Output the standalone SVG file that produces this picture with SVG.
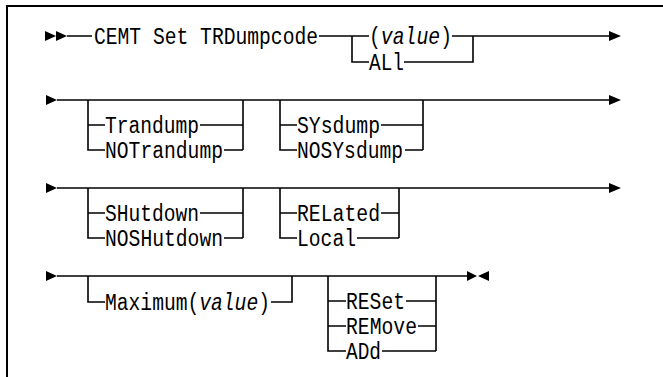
<svg xmlns="http://www.w3.org/2000/svg" width="663" height="377" viewBox="0 0 663 377">
<style>
.t{font-family:"Liberation Mono","DejaVu Sans Mono",monospace;font-size:23px;fill:#000}
.i{font-style:italic}
.ln{stroke:#000;stroke-width:1.6;fill:none}
.ar{fill:#000;stroke:none}
.bd{stroke:#000;stroke-width:2;fill:none}
</style>
<rect width="663" height="377" fill="#fff"/>
<path class="bd" d="M7,377 V6 H663"/>
<g id="connectors">
  <!-- row 1 -->
  <path class="ar" d="M45,31 L56,36 L45,41 Z M56,31 L67,36 L56,41 Z"/>
  <path class="ln" d="M67,36 H92 M319,36 H369 M452,36 H610"/>
  <path class="ar" d="M609,31 L621,36 L609,41 Z"/>
  <path class="ln" d="M352,36 V62 H369 M404,62 H473 V36"/>
  <!-- row 2 -->
  <path class="ar" d="M46,95 L57,100 L46,105 Z"/>
  <path class="ln" d="M57,100 H610"/>
  <path class="ar" d="M609,95 L621,100 L609,105 Z"/>
  <path class="ln" d="M88,100 V150 H105 M88,125 H105 M200,125 H243 M224,150 H243 M243,100 V150"/>
  <path class="ln" d="M280,100 V150 H297 M280,125 H297 M381,125 H423 M405,150 H423 M423,100 V150"/>
  <!-- row 3 -->
  <path class="ar" d="M46,183 L57,188 L46,193 Z"/>
  <path class="ln" d="M57,188 H610"/>
  <path class="ar" d="M609,183 L621,188 L609,193 Z"/>
  <path class="ln" d="M88,188 V238 H105 M88,213 H105 M200,213 H243 M224,238 H243 M243,188 V238"/>
  <path class="ln" d="M280,188 V238 H297 M280,213 H297 M381,213 H399 M357,238 H399 M399,188 V238"/>
  <!-- row 4 -->
  <path class="ar" d="M46,271 L57,276 L46,281 Z"/>
  <path class="ln" d="M57,276 H468"/>
  <path class="ar" d="M467,271 L477,276 L467,281 Z M489,271 L478,276 L489,281 Z"/>
  <path class="ln" d="M88,276 V302 H105 M271,302 H292 V276"/>
  <path class="ln" d="M328,276 V351 H346 M328,301 H346 M328,326 H346 M406,301 H436 M418,326 H436 M382,351 H436 M436,276 V351"/>
</g>
<g id="cmd"><text class="t" x="94" y="44" textLength="224" lengthAdjust="spacingAndGlyphs">CEMT Set TRDumpcode</text></g>
<g id="value"><text class="t" x="369" y="44" textLength="83" lengthAdjust="spacingAndGlyphs">(<tspan class="i">value</tspan>)</text></g>
<g id="all"><text class="t" x="369" y="70" textLength="35" lengthAdjust="spacingAndGlyphs">ALl</text></g>
<g id="trandump"><text class="t" x="105" y="133" textLength="94" lengthAdjust="spacingAndGlyphs">Trandump</text></g>
<g id="notrandump"><text class="t" x="105" y="158" textLength="118" lengthAdjust="spacingAndGlyphs">NOTrandump</text></g>
<g id="sysdump"><text class="t" x="297" y="133" textLength="83" lengthAdjust="spacingAndGlyphs">SYsdump</text></g>
<g id="nosysdump"><text class="t" x="297" y="158" textLength="106" lengthAdjust="spacingAndGlyphs">NOSYsdump</text></g>
<g id="shutdown"><text class="t" x="105" y="221" textLength="94" lengthAdjust="spacingAndGlyphs">SHutdown</text></g>
<g id="noshutdown"><text class="t" x="105" y="246" textLength="118" lengthAdjust="spacingAndGlyphs">NOSHutdown</text></g>
<g id="related"><text class="t" x="297" y="221" textLength="83" lengthAdjust="spacingAndGlyphs">RELated</text></g>
<g id="local"><text class="t" x="297" y="246" textLength="59" lengthAdjust="spacingAndGlyphs">Local</text></g>
<g id="maximum"><text class="t" x="105" y="310" textLength="165" lengthAdjust="spacingAndGlyphs">Maximum(<tspan class="i">value</tspan>)</text></g>
<g id="reset"><text class="t" x="346" y="309" textLength="59" lengthAdjust="spacingAndGlyphs">RESet</text></g>
<g id="remove"><text class="t" x="346" y="334" textLength="71" lengthAdjust="spacingAndGlyphs">REMove</text></g>
<g id="add"><text class="t" x="346" y="359" textLength="35" lengthAdjust="spacingAndGlyphs">ADd</text></g>
</svg>
